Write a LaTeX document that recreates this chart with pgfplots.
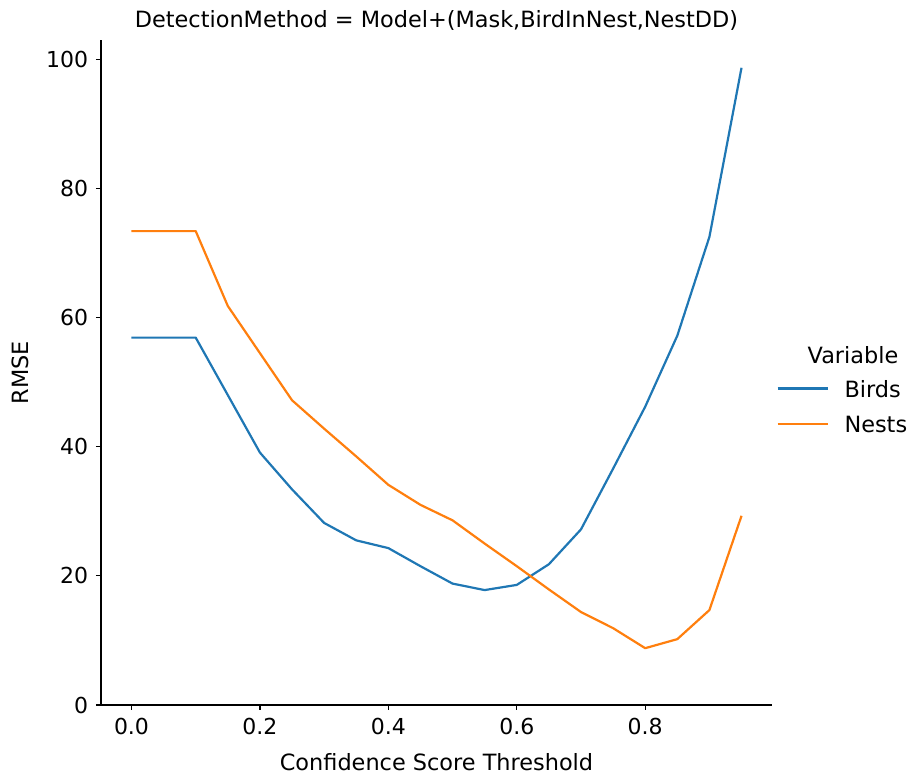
\documentclass[border=0pt]{standalone}
\usepackage{pgfplots}
\pgfplotsset{compat=1.18}
\usepackage{fontspec}
\setmainfont{DejaVu Sans}
\definecolor{c0}{HTML}{1F77B4}
\definecolor{c1}{HTML}{FF7F0E}
\begin{document}
\fontsize{11.2}{13.4}\selectfont
\begin{tikzpicture}
\useasboundingbox (-50.5pt,-35.5pt) rectangle (403pt,352.5pt);
\begin{axis}[
  at={(0,0)}, anchor=south west,
  scale only axis, width=335.5pt, height=332.5pt,
  xmin=-0.0475, xmax=0.9975, ymin=0, ymax=103,
  clip=false,
  axis x line*=bottom, axis y line*=left,
  axis line style={line width=0.6pt, black},
  tick style={line width=0.6pt, black},
  major tick length=2.5pt, tick align=outside,
  xtick={0,0.2,0.4,0.6,0.8},
  ytick={0,20,40,60,80,100},
  xticklabel style={/pgf/number format/fixed, /pgf/number format/fixed zerofill, /pgf/number format/precision=1},
  /pgf/number format/assume math mode=true,
  ticklabel style={font=\fontsize{11}{13.2}\selectfont},
  xlabel={Confidence Score Threshold},
  ylabel={RMSE},
  title={DetectionMethod = Model+(Mask,BirdInNest,NestDD)},
  x label style={at={(axis description cs:0.5,0)}, anchor=center, yshift=-28.5pt},
  y label style={at={(axis description cs:0,0.5)}, anchor=center, yshift=40.5pt},
  title style={at={(axis description cs:0.5,1)}, anchor=center, yshift=4pt},
  legend style={at={(axis description cs:1.006,0.455)}, anchor=west, draw=none, fill=none,
    inner xsep=0pt, inner ysep=0pt, row sep=5pt,
    nodes={inner xsep=0pt, inner ysep=0pt, text height=8.5pt, text depth=0pt}},
  legend cell align=left,
  legend image code/.code={\path[draw=none] (0pt,0pt) rectangle (33.5pt,8.5pt); \draw[#1] (0pt,0.25pt) -- (25pt,0.25pt);},
  every axis plot/.append style={line width=1.1pt},
]
\addplot[c0, line join=round] coordinates {
(0.00,56.9) (0.05,56.9) (0.10,56.9) (0.15,48.0) (0.20,39.1) (0.25,33.4)
(0.30,28.2) (0.35,25.5) (0.40,24.3) (0.45,21.5) (0.50,18.8) (0.55,17.8)
(0.60,18.6) (0.65,21.8) (0.70,27.2) (0.75,36.6) (0.80,46.2) (0.85,57.2)
(0.90,72.5) (0.95,98.7)};
\addlegendentry{Birds}
\addplot[c1, line join=round] coordinates {
(0.00,73.4) (0.05,73.4) (0.10,73.4) (0.15,61.8) (0.20,54.5) (0.25,47.2)
(0.30,42.8) (0.35,38.5) (0.40,34.1) (0.45,31.0) (0.50,28.6) (0.55,25.0)
(0.60,21.5) (0.65,17.9) (0.70,14.4) (0.75,11.9) (0.80,8.8) (0.85,10.2)
(0.90,14.7) (0.95,29.3)};
\addlegendentry{Nests}
\node[anchor=center] at (axis description cs:1.1207,0.526) {Variable};
\end{axis}
\end{tikzpicture}
\end{document}
